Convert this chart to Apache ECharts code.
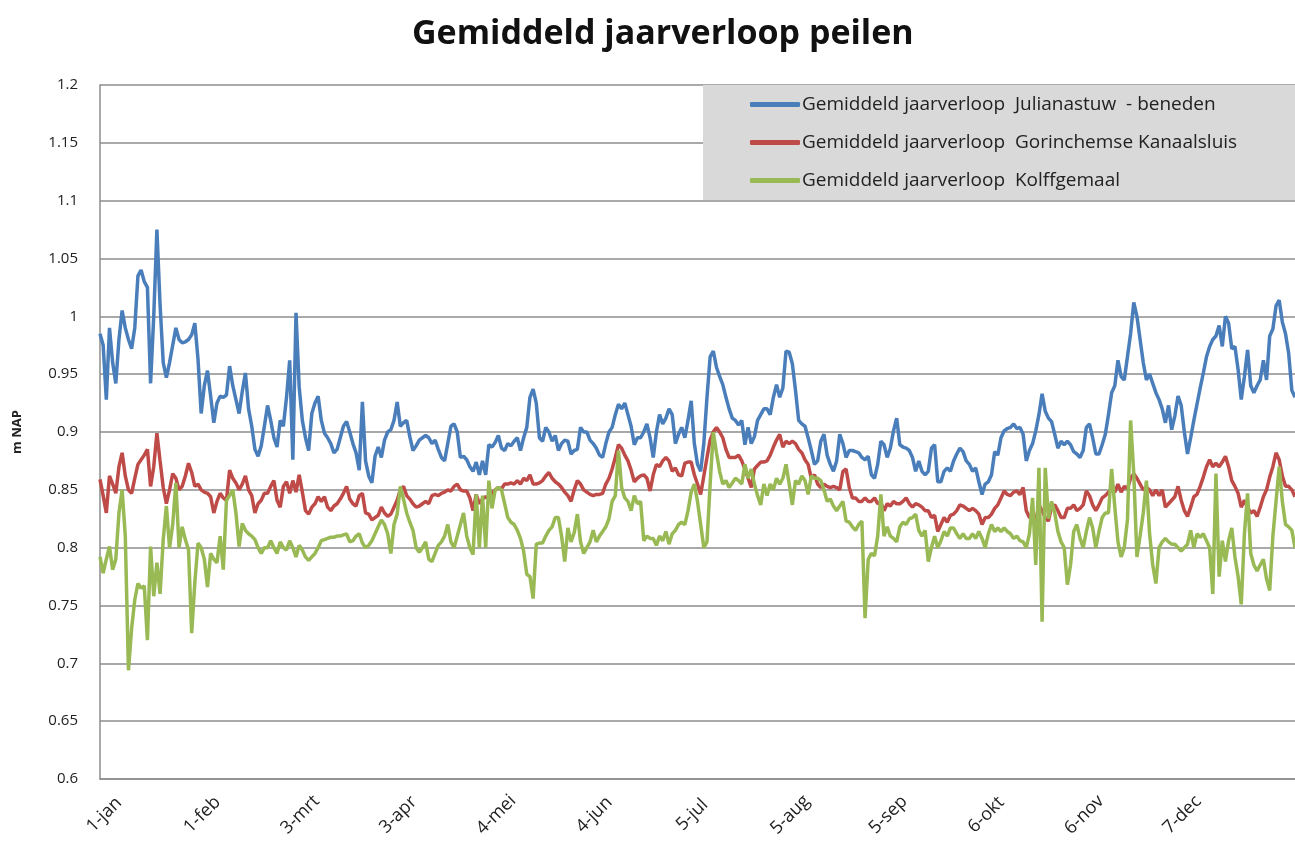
<!DOCTYPE html>
<html><head><meta charset="utf-8">
<script src="https://cdn.jsdelivr.net/npm/echarts@6/dist/echarts.min.js"></script>
<style>html,body{margin:0;padding:0;background:#fff}#c{width:1295px;height:843px}</style>
</head><body><div id="c"></div>
<script>
const chartTitle = 'Gemiddeld jaarverloop peilen';
const yAxisName = 'm NAP';
const tickLabels = ['1-jan','1-feb','3-mrt','3-apr','4-mei','4-jun','5-jul','5-aug','5-sep','6-okt','6-nov','7-dec'];
const seriesNames = ['Gemiddeld jaarverloop  Julianastuw  - beneden','Gemiddeld jaarverloop  Gorinchemse Kanaalsluis','Gemiddeld jaarverloop  Kolffgemaal'];

const julianastuw = [
0.985,0.975,0.928,0.99,0.96,0.942,0.98,1.005,0.99,0.98,0.972,0.99,1.035,1.04,1.03,1.025,0.942,1.0,1.075,1.01,0.96,0.947,0.96,
0.975,0.99,0.98,0.977,0.978,0.98,0.984,0.994,0.963,0.916,0.94,0.953,0.931,0.908,0.925,0.931,0.93,0.932,0.957,0.94,0.928,0.916,0.935,0.951,0.92,0.905,0.885,0.879,0.888,0.905,
0.923,0.91,0.895,0.887,0.91,0.905,0.93,0.962,0.876,1.003,0.939,0.91,0.895,0.884,0.916,0.925,0.931,0.91,0.899,0.895,0.89,0.882,0.885,0.895,0.905,0.909,0.9,0.89,0.882,0.867,0.926,0.875,0.862,0.856,0.879,0.887,0.878,0.893,0.9,0.902,0.91,0.926,0.905,0.908,0.91,0.896,0.884,0.888,0.893,0.895,0.897,
0.895,0.89,0.893,0.885,0.878,0.875,0.89,0.905,0.907,0.9,0.878,0.879,0.876,0.87,0.866,0.874,0.863,0.875,0.863,0.889,0.887,0.891,0.897,0.886,0.884,0.89,0.888,0.892,0.895,0.884,0.895,0.904,0.93,0.937,0.925,0.895,0.892,0.904,0.9,0.892,0.897,0.884,0.89,0.893,0.892,0.881,0.884,0.885,0.904,0.9,0.9,0.893,0.89,
0.886,0.88,0.878,0.89,0.9,0.904,0.915,0.924,0.92,0.925,0.915,0.905,0.889,0.895,0.895,0.9,0.907,0.895,0.878,0.9,0.915,0.907,0.912,0.92,0.915,0.89,0.898,0.904,0.895,0.91,0.927,0.89,0.872,0.866,0.89,0.93,0.965,0.97,0.956,0.948,0.941,0.93,0.92,0.912,0.91,0.906,0.91,0.889,0.904,0.89,0.896,0.91,0.915,0.92,
0.92,0.915,0.93,0.941,0.93,0.938,0.97,0.969,0.959,0.936,0.91,0.907,0.905,0.895,0.884,0.872,0.875,0.892,0.898,0.88,0.872,0.866,0.875,0.898,0.89,0.878,0.884,0.884,0.883,0.882,0.878,0.876,0.879,0.863,0.86,0.872,0.892,0.889,0.878,0.886,0.901,0.912,0.889,0.887,0.886,0.884,0.878,0.866,0.875,0.866,0.863,0.866,0.886,0.889,
0.857,0.857,0.866,0.869,0.866,0.875,0.881,0.886,0.883,0.875,0.872,0.866,0.869,0.857,0.846,0.855,0.857,0.863,0.883,0.88,0.895,0.901,0.903,0.904,0.907,0.903,0.904,0.898,0.875,0.884,0.89,0.901,0.915,0.933,0.918,0.912,0.909,0.898,0.886,0.892,0.889,0.892,0.889,0.883,0.881,0.878,0.884,0.904,0.907,0.895,0.881,0.881,0.889,0.898,
0.915,0.934,0.94,0.962,0.948,0.945,0.965,0.985,1.012,1.0,0.98,0.96,0.945,0.95,0.942,0.934,0.928,0.92,0.908,0.923,0.902,0.914,0.931,0.923,0.9,0.881,0.895,0.91,0.924,0.938,0.951,0.965,0.974,0.98,0.983,0.992,0.974,1.0,0.994,0.972,0.974,0.954,0.928,0.948,0.971,0.94,0.934,0.94,0.945,0.962,0.945,0.983,0.989,1.009,1.014,0.995,0.985,0.968,0.936,0.93
];

const gorinchem = [
0.859,0.845,0.83,0.862,0.855,0.847,0.87,0.882,0.862,0.85,0.847,0.86,0.872,0.876,0.88,0.885,0.853,0.87,0.899,0.875,0.852,0.838,0.85,0.864,0.86,0.85,0.853,0.862,0.873,0.865,0.853,0.855,0.85,0.848,0.847,0.844,0.83,0.84,0.847,0.843,0.841,0.867,0.86,0.856,0.85,0.855,0.862,0.85,0.845,0.83,0.838,0.841,0.847,
0.847,0.853,0.858,0.841,0.835,0.853,0.857,0.847,0.858,0.848,0.863,0.848,0.832,0.829,0.835,0.838,0.844,0.84,0.844,0.835,0.832,0.836,0.838,0.842,0.847,0.853,0.842,0.838,0.836,0.845,0.847,0.83,0.829,0.824,0.826,0.828,0.835,0.83,0.827,0.829,0.835,0.841,0.85,0.853,0.845,0.842,0.838,0.835,0.836,0.838,0.84,
0.838,0.845,0.846,0.845,0.847,0.848,0.85,0.849,0.853,0.855,0.85,0.849,0.849,0.843,0.832,0.846,0.838,0.842,0.844,0.843,0.847,0.85,0.852,0.851,0.855,0.855,0.856,0.855,0.858,0.855,0.86,0.858,0.863,0.855,0.855,0.856,0.858,0.862,0.865,0.86,0.857,0.855,0.852,0.848,0.845,0.84,0.85,0.858,0.855,0.85,0.848,0.846,0.845,
0.846,0.846,0.847,0.855,0.86,0.868,0.878,0.889,0.886,0.88,0.875,0.867,0.857,0.86,0.862,0.863,0.86,0.849,0.863,0.872,0.87,0.875,0.878,0.875,0.866,0.869,0.863,0.862,0.873,0.874,0.874,0.863,0.855,0.846,0.862,0.878,0.893,0.9,0.904,0.9,0.895,0.885,0.878,0.878,0.878,0.88,0.875,0.868,0.86,0.852,0.868,0.871,0.874,0.874,
0.875,0.88,0.887,0.893,0.898,0.887,0.892,0.89,0.892,0.89,0.885,0.882,0.876,0.872,0.86,0.863,0.855,0.852,0.855,0.853,0.852,0.853,0.852,0.85,0.866,0.868,0.852,0.843,0.843,0.84,0.84,0.843,0.84,0.84,0.843,0.838,0.839,0.832,0.838,0.836,0.84,0.838,0.838,0.84,0.843,0.838,0.835,0.838,0.837,0.835,0.832,0.832,0.826,0.828,
0.814,0.82,0.826,0.822,0.828,0.829,0.832,0.837,0.836,0.834,0.832,0.834,0.832,0.829,0.82,0.826,0.826,0.829,0.834,0.837,0.843,0.849,0.846,0.845,0.848,0.849,0.846,0.852,0.832,0.826,0.826,0.823,0.837,0.832,0.826,0.823,0.835,0.837,0.832,0.826,0.826,0.834,0.834,0.837,0.832,0.834,0.837,0.849,0.845,0.837,0.832,0.837,0.843,0.845,
0.848,0.85,0.848,0.855,0.848,0.853,0.851,0.86,0.864,0.86,0.855,0.85,0.852,0.85,0.845,0.85,0.845,0.85,0.835,0.838,0.841,0.844,0.853,0.841,0.832,0.827,0.835,0.844,0.846,0.853,0.861,0.87,0.876,0.87,0.873,0.87,0.874,0.879,0.87,0.858,0.853,0.847,0.835,0.841,0.835,0.83,0.832,0.827,0.835,0.844,0.85,0.861,0.87,0.882,0.876,0.862,0.853,0.853,0.85,0.844
];

const kolffgemaal = [
0.792,0.778,0.79,0.801,0.781,0.79,0.83,0.85,0.81,0.694,0.73,0.755,0.769,0.765,0.767,0.72,0.801,0.758,0.787,0.76,0.807,0.836,0.8,0.82,0.856,0.8,0.818,0.807,0.798,0.726,0.77,0.804,0.8,0.79,0.766,0.795,0.79,0.787,0.81,0.781,0.841,0.845,0.85,0.83,0.801,0.821,0.815,0.812,0.81,0.807,0.8,0.795,0.8,
0.8,0.806,0.8,0.795,0.805,0.8,0.798,0.806,0.8,0.792,0.802,0.798,0.792,0.789,0.792,0.795,0.8,0.806,0.807,0.808,0.809,0.809,0.81,0.81,0.811,0.812,0.805,0.806,0.81,0.812,0.804,0.8,0.802,0.806,0.812,0.818,0.824,0.82,0.812,0.795,0.82,0.829,0.853,0.842,0.83,0.822,0.815,0.8,0.796,0.8,0.805,
0.79,0.788,0.795,0.802,0.805,0.81,0.82,0.805,0.8,0.81,0.82,0.83,0.81,0.8,0.794,0.846,0.8,0.845,0.8,0.858,0.834,0.85,0.852,0.85,0.838,0.826,0.822,0.82,0.815,0.808,0.797,0.777,0.775,0.756,0.803,0.804,0.804,0.81,0.815,0.818,0.826,0.826,0.81,0.788,0.817,0.805,0.813,0.829,0.805,0.795,0.8,0.805,0.815,
0.805,0.81,0.814,0.818,0.825,0.84,0.845,0.884,0.852,0.843,0.84,0.832,0.845,0.838,0.84,0.806,0.81,0.808,0.808,0.802,0.81,0.806,0.814,0.803,0.812,0.815,0.82,0.822,0.82,0.832,0.848,0.855,0.84,0.82,0.8,0.805,0.855,0.9,0.882,0.866,0.855,0.858,0.852,0.856,0.86,0.858,0.855,0.872,0.86,0.868,0.855,0.845,0.837,0.855,
0.845,0.855,0.85,0.86,0.855,0.86,0.872,0.855,0.837,0.858,0.855,0.862,0.858,0.846,0.862,0.86,0.86,0.858,0.85,0.84,0.842,0.836,0.832,0.836,0.84,0.823,0.822,0.818,0.815,0.82,0.823,0.739,0.79,0.795,0.793,0.81,0.846,0.81,0.818,0.81,0.808,0.805,0.818,0.822,0.82,0.825,0.826,0.829,0.815,0.81,0.815,0.788,0.8,0.81,
0.8,0.806,0.814,0.81,0.817,0.817,0.812,0.808,0.812,0.808,0.808,0.812,0.808,0.814,0.808,0.8,0.812,0.82,0.814,0.817,0.814,0.817,0.814,0.812,0.808,0.81,0.806,0.805,0.8,0.812,0.843,0.785,0.869,0.736,0.869,0.825,0.84,0.83,0.814,0.805,0.8,0.768,0.785,0.814,0.82,0.808,0.8,0.814,0.826,0.817,0.8,0.814,0.826,0.83,
0.83,0.868,0.835,0.805,0.792,0.8,0.824,0.91,0.864,0.792,0.81,0.83,0.858,0.812,0.785,0.769,0.8,0.805,0.808,0.805,0.803,0.803,0.8,0.797,0.8,0.803,0.815,0.8,0.812,0.809,0.812,0.806,0.8,0.76,0.864,0.775,0.806,0.788,0.806,0.817,0.792,0.775,0.751,0.812,0.847,0.795,0.785,0.78,0.785,0.79,0.773,0.763,0.81,0.84,0.87,0.84,0.82,0.818,0.815,0.8
];

const days = julianastuw.map((_, i) => i);
const colors = ['#4a7ebb', '#be4b48', '#98b954'];
const FONT = 'Open Sans';

const chart = echarts.init(document.getElementById('c'), null, {renderer: 'canvas'});
chart.setOption({
  animation: false,
  backgroundColor: '#ffffff',
  color: colors,
  title: {
    text: chartTitle, left: 407, top: 12,
    textStyle: {fontFamily: FONT, fontSize: 34, fontWeight: 'bold', color: '#111'}
  },
  legend: {
    orient: 'vertical', left: 703, top: 85,
    backgroundColor: '#d9d9d9',
    padding: [10, 140, 10, 47],
    itemGap: 19, itemWidth: 50, itemHeight: 5, icon: 'roundRect',
    textStyle: {fontFamily: FONT, fontSize: 19, color: '#222', lineHeight: 16, padding: [0, 0, 0, -3]},
    data: seriesNames
  },
  grid: {left: 100, right: 0, top: 85, bottom: 64, containLabel: false},
  xAxis: {
    type: 'category', data: days, boundaryGap: false,
    axisLine: {lineStyle: {color: '#8c8c8c', width: 1.5}},
    axisTick: {show: false},
    splitLine: {show: false},
    axisLabel: {
      interval: 30, rotate: 45, margin: 40,
      align: 'center', verticalAlign: 'middle', padding: [0, 0, 0, 12],
      fontFamily: FONT, fontSize: 18, color: '#222',
      formatter: (v, i) => (i % 31 === 0 && tickLabels[i / 31]) ? tickLabels[i / 31] : ''
    }
  },
  yAxis: {
    type: 'value', min: 0.6, max: 1.2, interval: 0.05,
    name: yAxisName, nameLocation: 'middle', nameGap: 76,
    nameTextStyle: {fontFamily: FONT, fontSize: 13, fontWeight: 'bold', color: '#222'},
    axisLine: {show: true, lineStyle: {color: '#8c8c8c', width: 1.5}},
    axisTick: {show: false},
    axisLabel: {fontFamily: FONT, fontSize: 15, color: '#222', margin: 22,
      formatter: v => String(Math.round(v * 100) / 100)},
    splitLine: {lineStyle: {color: '#8c8c8c', width: 1.5}}
  },
  series: [julianastuw, gorinchem, kolffgemaal].map((d, k) => ({
    name: seriesNames[k], type: 'line', data: d,
    showSymbol: false, symbol: 'none',
    lineStyle: {width: 3.5, color: colors[k]},
    itemStyle: {color: colors[k]}
  }))
});
</script>
</body></html>
